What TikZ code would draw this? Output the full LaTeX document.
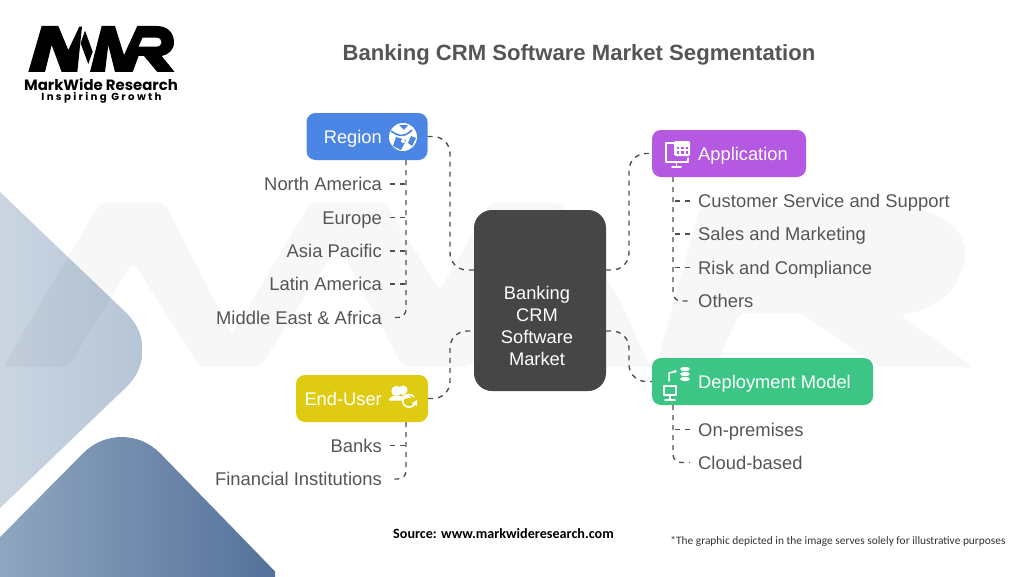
\documentclass[tikz,border=0pt]{standalone}
\usepackage{fontspec}
\setmainfont{Liberation Sans}
\newfontfamily\logofont{Poppins}
\newfontfamily\notefont{Carlito}
\usetikzlibrary{arrows.meta}
\newcommand{\fsz}[1]{\fontsize{#1}{#1}\selectfont}
\definecolor{txtgray}{HTML}{555555}
\definecolor{linegray}{HTML}{505050}
\definecolor{coregray}{HTML}{464646}
\definecolor{regionblue}{HTML}{4C86E4}
\definecolor{apppurple}{HTML}{B558E2}
\definecolor{useryellow}{HTML}{E0CB13}
\definecolor{deploygreen}{HTML}{3DC585}
\definecolor{lightA}{HTML}{CAD5E1}
\definecolor{lightB}{HTML}{B6C5D6}
\definecolor{darkA}{HTML}{8FA6C0}
\definecolor{darkB}{HTML}{54719A}
\tikzset{
  x=1pt,y=-1pt,
  catbox/.style={rectangle,rounded corners=9pt,minimum height=47pt,inner sep=0pt,draw=none},
  cattext/.style={inner sep=0pt,text=white,font=\fsz{18.3},text height=13pt,text depth=0pt},
  item/.style={inner sep=0pt,text=txtgray,font=\fsz{18.4},text height=13pt,text depth=0pt},
  conn/.style={draw=linegray,line width=1.4pt,dash pattern=on 5pt off 5pt},
  ico/.style={draw=white,line width=1.5pt,line cap=round,line join=round},
}
\begin{document}
\begin{tikzpicture}
\useasboundingbox (0,0) rectangle (1024,576);
\fill[white] (0,0) rectangle (1024,576);
\begin{scope}
\clip (0,0) rectangle (1024,576);
% background diamonds
\begin{scope}
\clip[rounded corners=53pt] (-120,77) -- (165,350) -- (-120,623) -- (-300,350) -- cycle;
\shade[left color=lightA,right color=lightB] (0,190) rectangle (142,510);
\end{scope}
\begin{scope}
\clip[rounded corners=55pt] (122,414) -- (330,628) -- (-90,628) -- cycle;
\shade[left color=darkA,right color=darkB] (0,437) rectangle (275,576);
\end{scope}
% watermark
\fill[black,opacity=.03,line join=round,rounded corners=5pt]
 (3,367) -- (68,367) -- (133,262) -- (200,367) -- (260,367) -- (338,245) -- (403,367) -- (470,367)
 -- (540,258) -- (600,367) -- (656,367) -- (700,207) -- (890,207) .. controls (950,207) and (975,240) .. (960,275)
 .. controls (950,297) and (930,310) .. (900,315) -- (973,367) -- (880,367) -- (800,313) -- (740,313) -- (715,367) -- (650,367)
 -- (620,300) -- (560,203) -- (490,203) -- (440,290) -- (385,203) -- (310,203) -- (232,335) -- (165,203) -- (100,203) -- cycle;
\end{scope}
% logo
\begin{scope}[x=.3333pt,y=-.3333pt]
\fill[black] (85,216) -- (125,78) -- (175,78) -- (205,150) -- (238,80) -- (246,80) -- (232,216) -- (185,216) -- (155,135) -- (135,216) -- cycle;
\fill[black] (255,92) -- (278,155) -- (265,192) -- (242,130) -- cycle;
\fill[black] (270,216) -- (305,78) -- (345,78) -- (372,165) -- (412,78) -- (470,78)
  .. controls (505,78) and (522,100) .. (522,128) .. controls (522,150) and (505,164) .. (485,168)
  -- (524,216) -- (472,216) -- (432,168) -- (416,168) -- (398,216) -- (345,216) -- (325,135) -- (315,216) -- cycle;
\fill[white] (428,113) -- (468,113) .. controls (490,113) and (490,140) .. (468,140) -- (416,140) -- cycle;
\end{scope}
\node[inner sep=0pt,font=\logofont\bfseries\fsz{14.9}] (logoname) at (101,84.5) {MarkWide Research};
\node[inner sep=0pt,font=\logofont\bfseries\fsz{10.2}] (logotag) at (101.5,97.5) {\addfontfeatures{LetterSpace=23}Inspiring Growth};
% title
\node[inner sep=0pt,text=txtgray,font=\bfseries\fsz{22.1}] (title) at (579,55) {Banking CRM Software Market Segmentation};
% core
\node[fill=coregray,rectangle,rounded corners=18pt,minimum width=132pt,minimum height=181pt,inner sep=0pt] (core) at (540,300.5) {};
\node[inner sep=0pt,text=white,font=\fsz{18.3},align=center] (coret) at (537,326) {Banking\\[4pt]CRM\\[4pt]Software\\[4pt]Market};
% boxes
\node[catbox,fill=regionblue,minimum width=121pt] (region) at (367,136.5) {};
\node[catbox,fill=apppurple,minimum width=154pt] (app) at (729,153.5) {};
\node[catbox,fill=useryellow,minimum width=132pt] (user) at (362,398.5) {};
\node[catbox,fill=deploygreen,minimum width=221pt] (deploy) at (762.5,381.5) {};
\node[cattext,anchor=east] (regiont) at (382,137) {Region};
\node[cattext,anchor=west] (appt) at (698,153.5) {Application};
\node[cattext,anchor=east] (usert) at (382,398.5) {End-User};
\node[cattext,anchor=west] (deployt) at (698,382) {Deployment Model};
% items
\node[item,anchor=east] (r1) at (382,184) {North America};
\node[item,anchor=east] (r2) at (382,217.5) {Europe};
\node[item,anchor=east] (r3) at (382,251) {Asia Pacific};
\node[item,anchor=east] (r4) at (382,284) {Latin America};
\node[item,anchor=east] (r5) at (382,317.5) {Middle East \& Africa};
\node[item,anchor=west] (a1) at (698,201) {Customer Service and Support};
\node[item,anchor=west] (a2) at (698,234) {Sales and Marketing};
\node[item,anchor=west] (a3) at (698,267.5) {Risk and Compliance};
\node[item,anchor=west] (a4) at (698,301) {Others};
\node[item,anchor=east] (u1) at (382,445.5) {Banks};
\node[item,anchor=east] (u2) at (382,479) {Financial Institutions};
\node[item,anchor=west] (d1) at (698,429.5) {On-premises};
\node[item,anchor=west] (d2) at (698,462.5) {Cloud-based};
% connector coordinates
\coordinate (jrl) at (474,270);
\coordinate (jrr) at (606,270);
\coordinate (jul) at (474,331);
\coordinate (jur) at (606,331);
\coordinate (vlr) at (450,270);
\coordinate (vlu) at (450,331);
\coordinate (vrr) at (629,270);
\coordinate (vru) at (629,331);
\coordinate (tl) at (406,300);
\coordinate (tr) at (673,300);
% main connectors
\draw[conn,rounded corners=17pt] (region.east) -| (vlr) -- (jrl);
\draw[conn,rounded corners=17pt] (user.east) -| (vlu) -- (jul);
\draw[conn,rounded corners=17pt] (jrr) -- (vrr) |- (app.west);
\draw[conn,rounded corners=17pt] (jur) -- (vru) |- (deploy.west);
% branches
\draw[conn,rounded corners=8pt] (region.south -| tl) |- ([xshift=8pt]r5.east);
\foreach \n in {r1,r2,r3,r4}{\draw[conn] ([xshift=8pt]\n.east) -- (\n.east -| tl);}
\draw[conn,rounded corners=8pt] (user.south -| tl) |- ([xshift=8pt]u2.east);
\draw[conn] ([xshift=8pt]u1.east) -- (u1.east -| tl);
\draw[conn,rounded corners=8pt] (app.south -| tr) |- ([xshift=-8pt]a4.west);
\foreach \n in {a1,a2,a3}{\draw[conn] ([xshift=-8pt]\n.west) -- (\n.west -| tr);}
\draw[conn,rounded corners=8pt] (deploy.south -| tr) |- ([xshift=-8pt]d2.west);
\draw[conn] ([xshift=-8pt]d1.west) -- (d1.west -| tr);
% globe icon
\fill[white] (403,137) circle (14pt);
\draw[regionblue,line width=1.6pt] (391,131) .. controls (398,136) and (404,138) .. (412,130);
\fill[regionblue] (396,137) -- (406,140) -- (401,150) -- (393,146) -- cycle;
\fill[regionblue] (399,125) -- (408,125) -- (404,130) -- cycle;
\fill[regionblue] (411,136) -- (416,138) -- (412,146) -- (408,143) -- cycle;
\fill[white] (403,141) circle (2pt);
% application icon
\draw[ico] (677,143) -- (666,143) -- (666,162) -- (688,162) -- (688,158);
\draw[ico] (672,167) -- (681,167);
\draw[ico] (676.5,162) -- (676.5,167);
\fill[white,rounded corners=1.5pt] (674,141) rectangle (690,156);
\foreach \x in {676.5,681,685.5}{\foreach \y in {146.5,151}{\fill[apppurple] (\x,\y) rectangle +(2.8,2.8);}}
% deployment icon
\draw[ico] (664,386) rectangle (676,395);
\draw[ico] (670,395) -- (670,399);
\draw[ico] (665,400) -- (675,400);
\draw[ico,-{Stealth[length=3pt,width=4pt]}] (669,381) -- (669,373) -- (677,371);
\foreach \y in {369,374,379}{\fill[white] (685,\y) ellipse (4.8pt and 2.2pt);}
% end-user icon
\fill[white] (396.5,391) circle (5.2pt);
\fill[white] (403,390) circle (4.6pt);
\fill[white] (389,399) -- (393,396) -- (402,396) -- (406,399) -- (406,400.5) -- (389,400.5) -- cycle;
\fill[white] (402,394) -- (410,396) -- (411,399) -- (406,399) -- cycle;
\draw[useryellow,line width=2pt] (409,407) circle (8pt);
\draw[ico,line width=1.7pt] (414.5,404) arc[start angle=-30,end angle=-320,radius=6.3pt];
\fill[white] (412,403) -- (417,400) -- (417,406) -- cycle;
% footer
\node[inner sep=0pt,font=\notefont\bfseries\fsz{14.15}] (source) at (503.5,534) {Source: www.markwideresearch.com};
\node[inner sep=0pt,text=black!80,font=\notefont\fsz{11.4}] (note) at (838,541) {*The graphic depicted in the image serves solely for illustrative purposes};
\end{tikzpicture}
\end{document}
